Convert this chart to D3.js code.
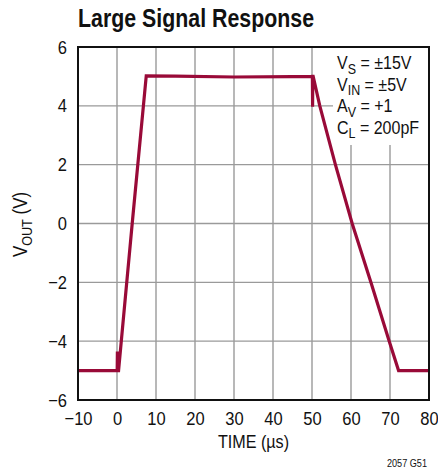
<!DOCTYPE html>
<html>
<head>
<meta charset="utf-8">
<script src="https://cdn.jsdelivr.net/npm/d3@7"></script>
<style>
  html, body { margin: 0; padding: 0; background: #fff; }
  svg { display: block; }
  text { font-family: "Liberation Sans", Arial, sans-serif; fill: #111; }
</style>
</head>
<body>
<svg id="chart" width="438" height="474"></svg>
<script>
// Output voltage waveform, time in microseconds
const timeUs = [-10, 0.05, 0.1, 0.15, 0.4, 3.9, 7.5, 15, 30, 45, 50.1, 50.15, 50.2, 50.3, 52, 56, 60.3, 65.1, 69.8, 72.2, 80];
const voutV  = [-5, -5, -4.35, -5, -5, 0, 5.02, 5.01, 4.98, 4.99, 5, 3.97, 5, 5, 4, 2, 0, -2, -4, -5, -5];

const xTicks = [-10, 0, 10, 20, 30, 40, 50, 60, 70, 80];
const yTicks = [-6, -4, -2, 0, 2, 4, 6];

// Test conditions: [main, subscript, rest]
const conditions = [
  ["V", "S", " = ±15V"],
  ["V", "IN", " = ±5V"],
  ["A", "V", " = +1"],
  ["C", "L", " = 200pF"]
];

const titleText = "Large Signal Response";
const xTitle = "TIME (µs)";
const figCode = "2057 G51";

const svg = d3.select("#chart");
const m = { left: 78, right: 429, top: 47, bottom: 400 };

const x = d3.scaleLinear().domain([-10, 80]).range([m.left, m.right]);
const y = d3.scaleLinear().domain([-6, 6]).range([m.bottom, m.top]);

const fmt = d => (d < 0 ? "\u2212" + Math.abs(d) : String(d));

// narrow the regular face horizontally about its anchor point
function condense(sel, sx) {
  sel.each(function () {
    const el = d3.select(this);
    const ax = +(el.attr("x") || 0);
    const prev = el.attr("transform") || "";
    el.attr("transform", `${prev} translate(${ax},0) scale(${sx},1) translate(${-ax},0)`);
  });
}

// grid
const grid = svg.append("g");
grid.selectAll("line.gx").data(xTicks.slice(1, -1)).join("line")
  .attr("x1", d => x(d)).attr("x2", d => x(d))
  .attr("y1", m.top).attr("y2", m.bottom)
  .attr("stroke", "#9a9a9a").attr("stroke-width", 1.4);
grid.selectAll("line.gy").data(yTicks.slice(1, -1)).join("line")
  .attr("x1", m.left).attr("x2", m.right)
  .attr("y1", d => y(d)).attr("y2", d => y(d))
  .attr("stroke", "#9a9a9a").attr("stroke-width", 1.4);

// waveform
const pts = timeUs.map((t, i) => [t, voutV[i]]);
svg.append("path")
  .datum(pts)
  .attr("d", d3.line().x(d => x(d[0])).y(d => y(d[1])))
  .attr("fill", "none")
  .attr("stroke", "#990a38")
  .attr("stroke-width", 3.2)
  .attr("stroke-linejoin", "miter")
  .attr("stroke-miterlimit", 2);

// condition box (white backing over grid)
svg.append("rect")
  .attr("x", 333).attr("y", m.top)
  .attr("width", m.right - 333).attr("height", 98)
  .attr("fill", "#fff");

const cond = svg.append("g");
conditions.forEach((c, i) => {
  const t = cond.append("text")
    .attr("x", 337).attr("y", 69 + i * 21.6)
    .attr("font-size", 18);
  t.append("tspan").text(c[0]);
  t.append("tspan").attr("font-size", 14).attr("dy", 4.7).text(c[1]);
  t.append("tspan").attr("dy", -4.7).text(c[2]);
  condense(t, 0.89);
});

// frame
svg.append("rect")
  .attr("x", m.left).attr("y", m.top)
  .attr("width", m.right - m.left).attr("height", m.bottom - m.top)
  .attr("fill", "none").attr("stroke", "#111").attr("stroke-width", 2);

// axes
const xAxis = d3.axisBottom(x).tickValues(xTicks).tickFormat(fmt).tickSize(0).tickPadding(11.5);
const gx = svg.append("g").attr("transform", `translate(0,${m.bottom})`).call(xAxis);
gx.select(".domain").remove();
gx.selectAll("text").attr("font-size", 19).attr("fill", "#111")
  .style("font-family", "'Liberation Sans', Arial, sans-serif");
condense(gx.selectAll("text"), 0.87);

const yAxis = d3.axisLeft(y).tickValues(yTicks).tickFormat(fmt).tickSize(0).tickPadding(11);
const gy = svg.append("g").attr("transform", `translate(${m.left},0)`).call(yAxis);
gy.select(".domain").remove();
gy.selectAll("text").attr("font-size", 19).attr("fill", "#111")
  .style("font-family", "'Liberation Sans', Arial, sans-serif");
condense(gy.selectAll("text"), 0.87);

// title
svg.append("text")
  .attr("x", 78).attr("y", 27)
  .attr("font-size", 26).attr("font-weight", "bold")
  .attr("textLength", 236).attr("lengthAdjust", "spacingAndGlyphs")
  .text(titleText);

// x axis title
const xt = svg.append("text")
  .attr("x", 253.5).attr("y", 448.3)
  .attr("text-anchor", "middle").attr("font-size", 19)
  .text(xTitle);
condense(xt, 0.85);

// y axis title with subscript
const yt = svg.append("text")
  .attr("transform", `translate(27.3,${(m.top + m.bottom) / 2 + 1}) rotate(-90) scale(0.87,1)`)
  .attr("text-anchor", "middle").attr("font-size", 19.5);
yt.append("tspan").text("V");
yt.append("tspan").attr("font-size", 14.5).attr("dy", 5).text("OUT");
yt.append("tspan").attr("dy", -5).text(" (V)");

// figure code
const fc = svg.append("text")
  .attr("x", 427).attr("y", 467)
  .attr("text-anchor", "end").attr("font-size", 11)
  .text(figCode);
condense(fc, 0.83);
</script>
</body>
</html>
